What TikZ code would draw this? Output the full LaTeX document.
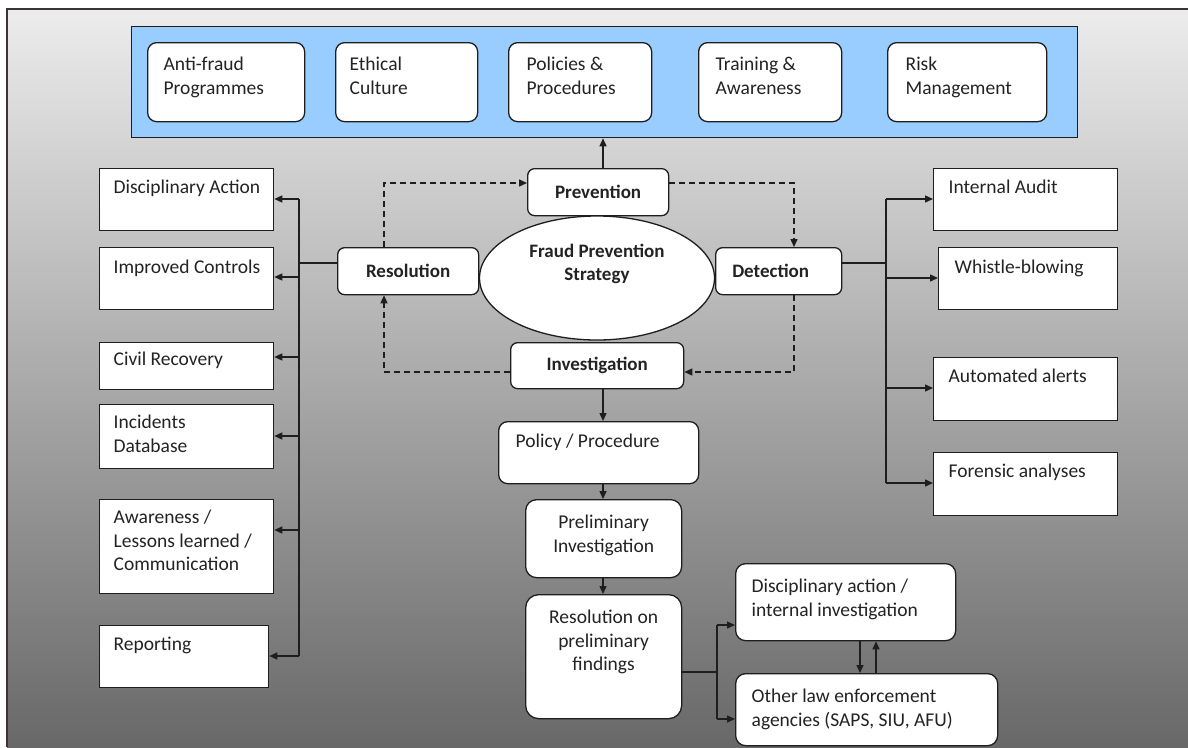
\documentclass[tikz,border=0pt]{standalone}
\usepackage{fontspec}
\setmainfont{Carlito}
\usetikzlibrary{arrows.meta,shapes.geometric}
\definecolor{bluefill}{RGB}{153,204,255}
\definecolor{linec}{RGB}{30,30,30}
\definecolor{txtc}{RGB}{35,35,35}
\definecolor{bgtop}{RGB}{236,236,236}
\definecolor{bgbot}{RGB}{104,104,104}
\definecolor{framec}{RGB}{60,52,52}
\newcommand\lbt[5]{\parbox[c][#2][t]{#1}{\raggedright\leftskip=#3\relax\vspace*{\dimexpr #4-\ht\strutbox\relax}\strut #5}}
\newcommand\cbt[4]{\parbox[c][#2][t]{#1}{\centering\vspace*{\dimexpr #3-\ht\strutbox\relax}\strut #4}}
\tikzset{
  every node/.style={font=\fontsize{19.5pt}{23.5pt}\selectfont, text=txtc},
  box/.style={draw=linec, line width=1.3pt, fill=white, inner sep=0pt, anchor=north west},
  rbox/.style={box, rounded corners=#1},
  rbox/.default=9pt,
  bbox/.style={box, rounded corners=7pt, font=\fontsize{19pt}{23pt}\selectfont\bfseries},
  conn/.style={draw=linec, line width=1.4pt},
  arr/.style={conn, -{Triangle[length=8pt,width=7pt]}},
  darr/.style={arr, dash pattern=on 6pt off 4pt},
}
\begin{document}
\begin{tikzpicture}[x=1pt, y=-1pt]
\useasboundingbox (0,0) rectangle (1188,747);
\fill[white] (0,0) rectangle (1188,747);
\fill[top color=bgtop, bottom color=bgbot] (7,9) rectangle (1188,747);
\draw[framec, line width=1.2pt] (7,747) -- (7,9) -- (1188,9);

% top band
\node[box, draw=linec, fill=bluefill, minimum width=946pt, minimum height=111pt] (blue) at (131,26) {};
\node[rbox] (t1) at (147,42) {\lbt{157pt}{79pt}{16pt}{28pt}{Anti-fraud\\Programmes}};
\node[rbox] (t2) at (335,42) {\lbt{142pt}{79pt}{14pt}{28pt}{Ethical\\Culture}};
\node[rbox] (t3) at (508,42) {\lbt{143pt}{79pt}{18pt}{28pt}{Policies \&\\Procedures}};
\node[rbox] (t4) at (698,42) {\lbt{143pt}{79pt}{17pt}{28pt}{Training \&\\Awareness}};
\node[rbox] (t5) at (887,42) {\lbt{159pt}{79pt}{18pt}{28pt}{Risk\\Management}};

% centre
\node[bbox, minimum width=141pt, minimum height=47pt] (prev) at (527,168) {Prevention};
\node[bbox, minimum width=141pt, minimum height=47pt] (res) at (337,247) {Resolution};
\node[bbox, minimum width=126pt, minimum height=47pt] (det) at (715,247) {Detection\hspace*{16pt}};
\node[bbox, minimum width=173pt, minimum height=46pt] (inv) at (510,342) {Investigation};
\node[ellipse, draw=linec, line width=1.3pt, fill=white, minimum width=235pt, minimum height=124pt, inner sep=0pt, font=\fontsize{19pt}{23pt}\selectfont\bfseries] (fps) at (597,278)
  {\raisebox{9pt}[0pt][0pt]{\begin{tabular}{@{}c@{}}Fraud Prevention\\Strategy\end{tabular}}};

% left column
\node[box] (da) at (99,168) {\lbt{174pt}{62pt}{14pt}{25pt}{Disciplinary Action}};
\node[box] (ic) at (99,247) {\lbt{174pt}{62pt}{14pt}{26pt}{Improved Controls}};
\node[box] (cr) at (99,342) {\lbt{174pt}{47pt}{14pt}{23pt}{Civil Recovery}};
\node[box] (id) at (99,404) {\lbt{174pt}{64pt}{14pt}{24pt}{Incidents\\Database}};
\node[box] (aw) at (99,499) {\lbt{174pt}{94pt}{14pt}{24pt}{Awareness /\\Lessons learned /\\Communication}};
\node[box] (rp) at (99,625) {\lbt{169pt}{62pt}{14pt}{25pt}{Reporting}};

% right column
\node[box] (ia) at (933,168) {\lbt{184pt}{62pt}{15pt}{25pt}{Internal Audit}};
\node[box] (wb) at (938,247) {\lbt{179pt}{62pt}{16pt}{26pt}{Whistle-blowing}};
\node[box] (aa) at (933,357) {\lbt{184pt}{63pt}{15pt}{25pt}{Automated alerts}};
\node[box] (fa) at (933,452) {\lbt{184pt}{63pt}{15pt}{25pt}{Forensic analyses}};

% bottom chain
\node[rbox] (pol) at (498,421) {\lbt{200pt}{62pt}{17pt}{26pt}{Policy / Procedure}};
\node[rbox=11pt] (pre) at (525,499) {\cbt{156pt}{78pt}{29pt}{Preliminary\\Investigation}};
\node[rbox=13pt] (ro) at (525,594) {\cbt{156pt}{124pt}{29pt}{Resolution on\\preliminary\\findings}};
\node[rbox=10pt] (dai) at (735,563) {\lbt{220pt}{77pt}{16pt}{29pt}{Disciplinary action /\\internal investigation}};
\node[rbox=10pt] (ol) at (735,673) {\lbt{262pt}{72pt}{16pt}{29pt}{Other law enforcement\\agencies (SAPS, SIU, AFU)}};

% solid connectors
\coordinate (ax) at (603,0);
\draw[arr] (prev.north -| ax) -- (blue.south -| ax);
\draw[arr] (inv.south -| ax) -- (pol.north -| ax);
\draw[arr] (pol.south -| ax) -- (pre.north -| ax);
\draw[arr] (pre.south -| ax) -- (ro.north -| ax);

% dashed cycle
\coordinate (dtl) at (384,183);
\coordinate (dtr) at (794,183);
\coordinate (dbr) at (794,372);
\coordinate (dbl) at (384,372);
\draw[darr] (res.north -| dtl) -- (dtl) -- (prev.west |- dtl);
\draw[darr] (prev.east |- dtr) -- (dtr) -- (det.north -| dtr);
\draw[darr] (det.south -| dbr) -- (dbr) -- (inv.east |- dbr);
\draw[darr] (inv.west |- dbl) -- (dbl) -- (res.south -| dbl);

% left tree
\coordinate (lj) at (299,263);
\coordinate (l1) at (299,199);
\coordinate (l2) at (299,277);
\coordinate (l3) at (299,357);
\coordinate (l4) at (299,436);
\coordinate (l5) at (299,530);
\coordinate (l6) at (299,656);
\draw[conn] (res.west |- lj) -- (lj);
\draw[conn] (l1) -- (l6);
\draw[arr] (l1) -- (l1 -| da.east);
\draw[arr] (l2) -- (l2 -| ic.east);
\draw[arr] (l3) -- (l3 -| cr.east);
\draw[arr] (l4) -- (l4 -| id.east);
\draw[arr] (l5) -- (l5 -| aw.east);
\draw[arr] (l6) -- (l6 -| rp.east);

% right tree
\coordinate (rj) at (886,263);
\coordinate (r1) at (886,199);
\coordinate (r2) at (886,278);
\coordinate (r3) at (886,388);
\coordinate (r4) at (886,483);
\draw[conn] (det.east |- rj) -- (rj);
\draw[conn] (r1) -- (r4);
\draw[arr] (r1) -- (r1 -| ia.west);
\draw[arr] (r2) -- (r2 -| wb.west);
\draw[arr] (r3) -- (r3 -| aa.west);
\draw[arr] (r4) -- (r4 -| fa.west);

% bottom branch
\coordinate (bj) at (717,672);
\coordinate (b1) at (717,625);
\coordinate (b2) at (717,719);
\draw[conn] (ro.east |- bj) -- (bj);
\draw[conn] (b1) -- (b2);
\draw[arr] (b1) -- (b1 -| dai.west);
\draw[arr] (b2) -- (b2 -| ol.west);
\coordinate (m1) at (860,0);
\coordinate (m2) at (876,0);
\draw[arr] (dai.south -| m1) -- (ol.north -| m1);
\draw[arr] (ol.north -| m2) -- (dai.south -| m2);
\end{tikzpicture}
\end{document}
